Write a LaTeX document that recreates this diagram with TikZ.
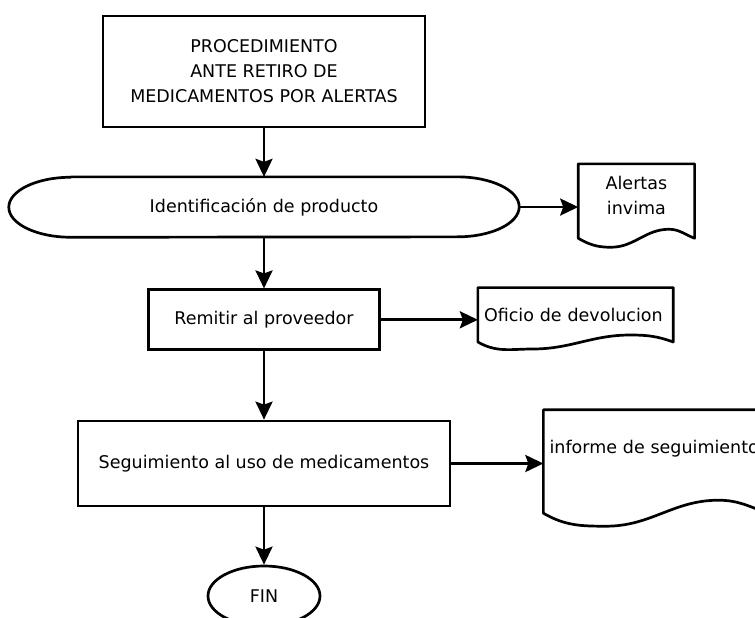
\documentclass[tikz,border=0pt]{standalone}
\usepackage{fontspec}
\setmainfont{DejaVu Sans}
\usepackage{tikz}
\usetikzlibrary{arrows.meta, positioning, shapes.geometric, calc}

% outline of a document sheet with a wavy lower edge
\newcommand{\hojadoc}[2]{%
	\draw[borde] (#1.north west) -- (#1.north east) -- (#1.south east)
	to[out=160, in=0] ($(#1.south west)!0.78!(#1.south east)+(0,#2)$)
	to[out=180, in=0] ($(#1.south west)!0.28!(#1.south east)-(0,#2)$)
	to[out=180, in=-30] (#1.south west) -- cycle;}

\begin{document}
\begin{tikzpicture}[
	every node/.style={font=\fontsize{17.5}{25}\selectfont, inner sep=4pt},
	caja/.style={draw, rectangle, line width=2.7pt, align=center},
	ovalo/.style={rectangle, minimum width=510pt, minimum height=60pt},
	documento/.style={rectangle, inner xsep=6pt, align=left},
	borde/.style={line width=2.7pt, line join=round},
	flecha/.style={line width=2.7pt, -{Stealth[length=18pt, width=17pt, inset=3pt]}},
	]
	\useasboundingbox (0,0) rectangle (755pt,-618pt);
	
	% Main column
	\node[caja, minimum width=322pt, minimum height=111pt] (titulo) at (264pt,-71.5pt)
	{PROCEDIMIENTO\\ANTE RETIRO DE\\MEDICAMENTOS POR ALERTAS};
	\node[ovalo] (ident) [below=48.5pt of titulo] {Identificación de producto};
	\node[caja, minimum width=231pt, minimum height=60pt] (remitir) [below=51.2pt of ident] {Remitir al proveedor};
	\node[caja, minimum width=372pt, minimum height=85pt] (seguim) [below=68.5pt of remitir] {Seguimiento al uso de medicamentos};
	\node[draw, ellipse, line width=2.7pt, minimum width=112pt, minimum height=60pt] (fin) [below=57.3pt of seguim] {FIN};
	
	% outline of the oval
	\draw[borde] ([xshift=62pt]ident.north west) -- ([xshift=-62pt]ident.north east)
	arc[start angle=90, end angle=-90, x radius=62pt, y radius=30pt]
	-- ([xshift=62pt]ident.south west)
	arc[start angle=270, end angle=90, x radius=62pt, y radius=30pt] -- cycle;
	
	% Documents on the right
	\node[documento, align=center, minimum width=116pt, minimum height=74pt, text depth=12pt] (alertas)
	[right=59pt of ident, yshift=6pt] {Alertas\\invima};
	\node[documento, text width=183pt, minimum height=54pt] (oficio)
	[right=97pt of remitir, yshift=5pt] {Oficio de devolucion};
	\node[documento, text width=212pt, minimum height=103pt, text depth=30pt] (informe)
	[right=92pt of seguim, yshift=2pt] {informe de seguimiento};
	\hojadoc{alertas}{9pt}
	\hojadoc{oficio}{7pt}
	\hojadoc{informe}{13pt}
	
	% Arrows down the column
	\draw[flecha] (titulo) -- (ident);
	\draw[flecha] (ident) -- (remitir);
	\draw[flecha] (remitir) -- (seguim);
	\draw[flecha] (seguim) -- (fin);
	
	% Arrows to the documents
	\draw[flecha] (ident.east) -- (ident.east -| alertas.west);
	\draw[flecha] (remitir.east) -- (remitir.east -| oficio.west);
	\draw[flecha] (seguim.east) -- (seguim.east -| informe.west);
	
\end{tikzpicture}
\end{document}
